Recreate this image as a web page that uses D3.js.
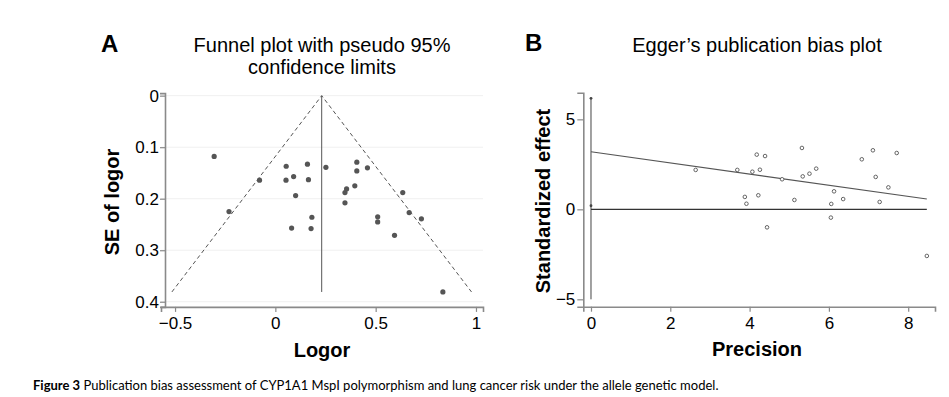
<html>
<head>
<meta charset="utf-8">
<script src="https://d3js.org/d3.v7.min.js"></script>
<style>
  body { margin: 0; background: #fff; }
  text { font-family: "Liberation Sans", Arial, sans-serif; fill: #000; }
  .caption { font-family: Lato, "Open Sans", sans-serif; }
</style>
</head>
<body>
<svg width="949" height="397"></svg>
<script>
// Panel A: funnel plot (log odds ratio vs its standard error)
const logor = [-0.305, -0.231, -0.079, 0.054, 0.053, 0.091, 0.101, 0.081, 0.160, 0.165, 0.182, 0.178, 0.252, 0.406,
               0.406, 0.459, 0.396, 0.355, 0.347, 0.347, 0.635, 0.510, 0.510, 0.667, 0.728, 0.594, 0.835];
const seLogor = [0.118, 0.225, 0.164, 0.137, 0.164, 0.157, 0.194, 0.257, 0.133, 0.163, 0.236, 0.258, 0.139, 0.129,
                 0.146, 0.140, 0.175, 0.181, 0.188, 0.208, 0.188, 0.235, 0.245, 0.227, 0.239, 0.271, 0.381];
const pooled = 0.231;      // fixed-effect estimate (vertical line)
const funnelMaxSE = 0.381; // funnel limits drawn down to this SE
const aTicksX = [-0.5, 0, 0.5, 1];
const aTicksY = [0, 0.1, 0.2, 0.3, 0.4];

// Panel B: Egger regression (precision vs standardized effect)
const precision = [2.64, 3.69, 3.88, 3.92, 4.07, 4.18, 4.22, 4.26, 4.39, 4.44, 4.82, 5.13, 5.32, 5.34,
                   5.51, 5.68, 6.06, 6.05, 6.13, 6.36, 6.83, 7.11, 7.18, 7.28, 7.50, 7.71, 8.47];
const stdEffect = [2.19, 2.19, 0.69, 0.31, 2.09, 3.04, 0.78, 2.20, 2.96, -1.00, 1.67, 0.52, 3.41, 1.83,
                   1.98, 2.26, 0.30, -0.46, 1.00, 0.57, 2.78, 3.28, 1.80, 0.41, 1.22, 3.13, -2.59];
const intercept = 3.20, interceptLo = 0.20, interceptHi = 6.17;
const lineEnd = [8.47, 0.57]; // regression line at max precision
const bTicksX = [0, 2, 4, 6, 8];
const bTicksY = [-5, 0, 5];

const svg = d3.select("svg");
const axisCol = "#8a8a8a";
const markCol = "#555";
const minus = s => String(s).replace("-", "\u2212");

function styleAxis(g) {
  g.select(".domain").attr("stroke", axisCol).attr("stroke-width", 1.6);
  g.selectAll(".tick line").attr("stroke", axisCol).attr("stroke-width", 1.2);
  g.selectAll(".tick text").style("font-size", "17px").attr("fill", "#000")
   .style("font-family", "'Liberation Sans', Arial, sans-serif");
}

// ---------- Panel A ----------
const xA = d3.scaleLinear().domain([-0.57, 1.035]).range([161, 483]);
const yA = d3.scaleLinear().domain([-0.005, 0.41]).range([93.1, 306.9]);

svg.append("g").selectAll("line").data(aTicksY).join("line")
  .attr("x1", xA(-0.57)).attr("x2", xA(1.035))
  .attr("y1", d => yA(d)).attr("y2", d => yA(d))
  .attr("stroke", "#f0f0f0").attr("stroke-width", 1);

svg.append("g").attr("transform", "translate(0,306.9)")
  .call(d3.axisBottom(xA).tickValues(aTicksX).tickSize(5).tickPadding(5).tickFormat(minus))
  .call(styleAxis);
svg.append("g").attr("transform", "translate(165,0)")
  .call(d3.axisLeft(yA).tickValues(aTicksY).tickSize(5).tickPadding(1).tickFormat(d3.format("")))
  .call(styleAxis);

const funnel = [[pooled - 1.96 * funnelMaxSE, funnelMaxSE], [pooled, 0], [pooled + 1.96 * funnelMaxSE, funnelMaxSE]];
svg.append("path").datum(funnel)
  .attr("fill", "none").attr("stroke", markCol).attr("stroke-width", 1).attr("stroke-dasharray", "4,3")
  .attr("d", d3.line().x(d => xA(d[0])).y(d => yA(d[1])));
svg.append("line")
  .attr("x1", xA(pooled)).attr("x2", xA(pooled)).attr("y1", yA(0)).attr("y2", yA(funnelMaxSE))
  .attr("stroke", markCol).attr("stroke-width", 1);

svg.append("g").selectAll("circle").data(logor).join("circle")
  .attr("cx", d => xA(d)).attr("cy", (d, i) => yA(seLogor[i])).attr("r", 2.6)
  .attr("fill", markCol);

svg.append("text").attr("x", 101).attr("y", 52).style("font-size", "24px").style("font-weight", "bold").text("A");
svg.append("text").attr("x", 322).attr("y", 52).attr("text-anchor", "middle").style("font-size", "20px")
  .text("Funnel plot with pseudo 95%");
svg.append("text").attr("x", 322).attr("y", 74).attr("text-anchor", "middle").style("font-size", "20px")
  .text("confidence limits");
svg.append("text").attr("x", 322).attr("y", 357).attr("text-anchor", "middle")
  .style("font-size", "20px").style("font-weight", "bold").text("Logor");
svg.append("text").attr("transform", "translate(119,202) rotate(-90)").attr("text-anchor", "middle")
  .style("font-size", "20px").style("font-weight", "bold").text("SE of logor");

// ---------- Panel B ----------
const xB = d3.scaleLinear().domain([-0.194, 8.676]).range([583.3, 935]);
const yB = d3.scaleLinear().domain([-5.41, 6.48]).range([306.7, 92.7]);

svg.append("g").attr("transform", "translate(0,306.7)")
  .call(d3.axisBottom(xB).tickValues(bTicksX).tickSize(5).tickPadding(5))
  .call(styleAxis);
svg.append("g").attr("transform", "translate(583.3,0)")
  .call(d3.axisLeft(yB).tickValues(bTicksY).tickSize(6).tickPadding(2).tickFormat(minus))
  .call(styleAxis);

// intercept CI line at precision 0
svg.append("line")
  .attr("x1", xB(0)).attr("x2", xB(0)).attr("y1", yB(interceptHi)).attr("y2", yB(-5))
  .attr("stroke", "#444").attr("stroke-width", 1);
svg.append("g").selectAll("circle").data([interceptHi, interceptLo]).join("circle")
  .attr("cx", xB(0)).attr("cy", d => yB(d)).attr("r", 1.4).attr("fill", "#444");

svg.append("line")
  .attr("x1", xB(0)).attr("x2", xB(lineEnd[0])).attr("y1", yB(0)).attr("y2", yB(0))
  .attr("stroke", "#333").attr("stroke-width", 1.1);
svg.append("line")
  .attr("x1", xB(0)).attr("x2", xB(lineEnd[0])).attr("y1", yB(intercept)).attr("y2", yB(lineEnd[1]))
  .attr("stroke", "#555").attr("stroke-width", 1.1);

svg.append("g").selectAll("circle").data(precision).join("circle")
  .attr("cx", d => xB(d)).attr("cy", (d, i) => yB(stdEffect[i])).attr("r", 1.8)
  .attr("fill", "#fff").attr("stroke", "#555").attr("stroke-width", 0.9);

svg.append("text").attr("x", 525).attr("y", 51).style("font-size", "24px").style("font-weight", "bold").text("B");
svg.append("text").attr("x", 757).attr("y", 52).attr("text-anchor", "middle").style("font-size", "20px")
  .text("Egger\u2019s publication bias plot");
svg.append("text").attr("x", 757).attr("y", 356).attr("text-anchor", "middle")
  .style("font-size", "20px").style("font-weight", "bold").text("Precision");
svg.append("text").attr("transform", "translate(550,201) rotate(-90)").attr("text-anchor", "middle")
  .style("font-size", "20px").style("font-weight", "bold").text("Standardized effect");

// caption
const cap = svg.append("text").attr("class", "caption").attr("x", 33).attr("y", 390).style("font-size", "13px");
cap.append("tspan").style("font-weight", "bold").text("Figure 3");
cap.append("tspan").text(" Publication bias assessment of CYP1A1 MspI polymorphism and lung cancer risk under the allele genetic model.");
</script>
</body>
</html>
